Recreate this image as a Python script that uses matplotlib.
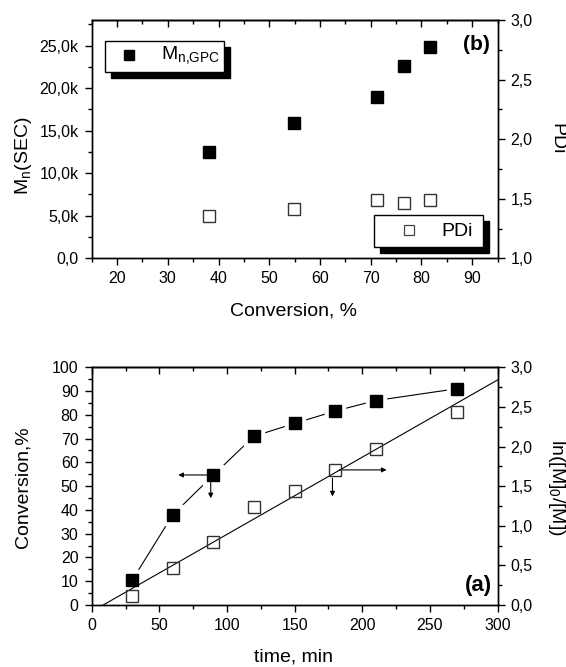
import matplotlib
matplotlib.use('Agg')
import matplotlib.pyplot as plt
from matplotlib.ticker import MultipleLocator, FuncFormatter
from matplotlib.patches import Rectangle
from matplotlib.lines import Line2D

plt.rcParams['font.family'] = ['Liberation Sans', 'DejaVu Sans']
plt.rcParams['mathtext.fontset'] = 'custom'
plt.rcParams['mathtext.rm'] = 'Liberation Sans'
plt.rcParams['mathtext.it'] = 'Liberation Sans:italic'
plt.rcParams['mathtext.default'] = 'regular'

# panel (b): Mn and PDi against conversion
conv_b = [38.2, 54.8, 71.2, 76.5, 81.7]
mn_sec = [12450, 15900, 18900, 22600, 24800]
pdi = [1.355, 1.41, 1.49, 1.465, 1.49]

# panel (a): kinetics
time_min = [30, 60, 90, 120, 150, 180, 210, 270]
conversion = [10.5, 38.0, 54.7, 71.0, 76.4, 81.6, 86.0, 91.0]
ln_m0_m = [0.11, 0.47, 0.79, 1.24, 1.44, 1.70, 1.97, 2.44]
fit_time = [8.5, 300]
fit_ln = [0.0, 2.84]

W, H = 566, 667
TICK_FS = 11.5
LABEL_FS = 14
MS = 8.9


def comma(fmt):
    return FuncFormatter(lambda v, p: fmt.format(v).replace('.', ','))


def kfmt(v, p):
    if abs(v) < 1e-9:
        return '0,0'
    return '{:.1f}k'.format(v / 1000).replace('.', ',')


def style(ax, side):
    ax.tick_params(which='both', direction='out', width=1, labelsize=TICK_FS, pad=4.5)
    ax.tick_params(which='major', length=5)
    ax.tick_params(which='minor', length=3)
    for s in ax.spines.values():
        s.set_linewidth(1.0)
    if side == 'left':
        ax.tick_params(which='both', right=False, top=False)


def top_ticks(ax, major, minor):
    sec = ax.secondary_xaxis('top')
    sec.xaxis.set_major_locator(MultipleLocator(major))
    sec.xaxis.set_minor_locator(MultipleLocator(minor))
    sec.tick_params(which='both', direction='in', labeltop=False, width=1)
    sec.tick_params(which='major', length=5)
    sec.tick_params(which='minor', length=3)
    sec.spines['top'].set_linewidth(1.0)


def fig_rect(x0, y0, x1, y1, **kw):
    return Rectangle((x0 / W, 1 - y1 / H), (x1 - x0) / W, (y1 - y0) / H,
                     transform=fig.transFigure, **kw)


def legend_box(x0, y0, x1, y1, off=6):
    fig.add_artist(fig_rect(x0 + off, y0 + off, x1 + off, y1 + off,
                            facecolor='black', edgecolor='black', zorder=2))
    fig.add_artist(fig_rect(x0, y0, x1, y1, facecolor='white',
                            edgecolor='black', lw=1.0, zorder=2.5))


fig = plt.figure(figsize=(W / 100, H / 100), dpi=100)

# ---------- panel (b) ----------
ax1 = fig.add_axes([91.7 / W, 1 - 258.3 / H, 405.8 / W, 238.3 / H])
ax1.plot(conv_b, mn_sec, ls='none', marker='s', ms=MS, mfc='black', mec='black')
ax1.set_xlim(15, 95)
ax1.set_ylim(0, 28000)
ax1.xaxis.set_major_locator(MultipleLocator(10))
ax1.xaxis.set_minor_locator(MultipleLocator(5))
ax1.yaxis.set_major_locator(MultipleLocator(5000))
ax1.yaxis.set_minor_locator(MultipleLocator(2500))
ax1.yaxis.set_major_formatter(FuncFormatter(kfmt))
style(ax1, 'left')
top_ticks(ax1, 10, 5)

ax1r = ax1.twinx()
ax1r.plot(conv_b, pdi, ls='none', marker='s', ms=MS - 0.6, mfc='none',
          mec='#333333', mew=1.0)
ax1r.set_ylim(1.0, 3.0)
ax1r.yaxis.set_major_locator(MultipleLocator(0.5))
ax1r.yaxis.set_minor_locator(MultipleLocator(0.25))
ax1r.yaxis.set_major_formatter(comma('{:.1f}'))
style(ax1r, 'right')

# ---------- panel (a) ----------
ax2 = fig.add_axes([91.7 / W, 1 - 605 / H, 405.8 / W, 237.7 / H])
ax2.plot(time_min, conversion, color='black', lw=0.8, zorder=2)
ax2.plot(time_min, conversion, ls='none', marker='s', ms=14.5, mfc='white',
         mec='white', zorder=3)
ax2.plot(time_min, conversion, ls='none', marker='s', ms=MS, mfc='black',
         mec='black', zorder=5)
ax2.set_xlim(0, 300)
ax2.set_ylim(0, 100)
ax2.xaxis.set_major_locator(MultipleLocator(50))
ax2.xaxis.set_minor_locator(MultipleLocator(25))
ax2.yaxis.set_major_locator(MultipleLocator(10))
ax2.yaxis.set_minor_locator(MultipleLocator(5))
style(ax2, 'left')
top_ticks(ax2, 50, 25)

arrow = dict(arrowstyle='-|>', color='black', lw=0.8, mutation_scale=7,
             shrinkA=0, shrinkB=0)
ax2.annotate('', xy=(64, 54.7), xytext=(85, 54.7), arrowprops=arrow, zorder=4)
ax2.annotate('', xy=(88, 44.9), xytext=(88, 51.5), arrowprops=arrow, zorder=4)

ax2r = ax2.twinx()
ax2r.plot(fit_time, fit_ln, color='black', lw=0.8, zorder=3)
ax2r.plot(time_min, ln_m0_m, ls='none', marker='s', ms=MS - 0.6, mfc='none',
          mec='#333333', mew=1.0, zorder=4)
ax2r.annotate('', xy=(218, 1.705), xytext=(183, 1.705), arrowprops=arrow)
ax2r.annotate('', xy=(178, 1.37), xytext=(178, 1.6), arrowprops=arrow)
ax2r.set_ylim(0, 3.0)
ax2r.yaxis.set_major_locator(MultipleLocator(0.5))
ax2r.yaxis.set_minor_locator(MultipleLocator(0.25))
ax2r.yaxis.set_major_formatter(comma('{:.1f}'))
style(ax2r, 'right')

# ---------- axis labels ----------
fig.text(24 / W, 1 - 156 / H, 'M$_n$(SEC)', rotation=90, ha='center', va='center',
         fontsize=LABEL_FS)
fig.text(557 / W, 1 - 139 / H, 'PDi', rotation=270, ha='center', va='center',
         fontsize=LABEL_FS)
fig.text(294 / W, 1 - 311 / H, 'Conversion, %', ha='center', va='center',
         fontsize=LABEL_FS)
fig.text(23 / W, 1 - 487 / H, 'Conversion,%', rotation=90, ha='center', va='center',
         fontsize=LABEL_FS)
fig.text(556 / W, 1 - 487 / H, 'ln([M]$_0$/[M])', rotation=270, ha='center',
         va='center', fontsize=LABEL_FS)
fig.text(294 / W, 1 - 657 / H, 'time, min', ha='center', va='center',
         fontsize=LABEL_FS)

fig.text(476 / W, 1 - 45 / H, '(b)', ha='center', va='center', fontsize=15,
         fontweight='bold')
fig.text(478 / W, 1 - 586 / H, '(a)', ha='center', va='center', fontsize=16,
         fontweight='bold')

# ---------- legend boxes with shadow ----------
legend_box(105, 40.7, 224, 71.7)
fig.add_artist(Line2D([129.3 / W], [1 - 55 / H], marker='s', ms=7, mfc='black',
                      mec='black', transform=fig.transFigure, zorder=3))
fig.text(161 / W, 1 - 55 / H, 'M$_{n{,}GPC}$', ha='left', va='center', fontsize=14,
         zorder=3)

legend_box(374, 215, 482.7, 246.7)
fig.add_artist(Line2D([409 / W], [1 - 230 / H], marker='s', ms=6.5, mfc='none',
                      mec='#444444', mew=0.9, transform=fig.transFigure, zorder=3))
fig.text(441 / W, 1 - 231 / H, 'PDi', ha='left', va='center', fontsize=14,
         zorder=3)

fig.savefig('out.png', dpi=100)
